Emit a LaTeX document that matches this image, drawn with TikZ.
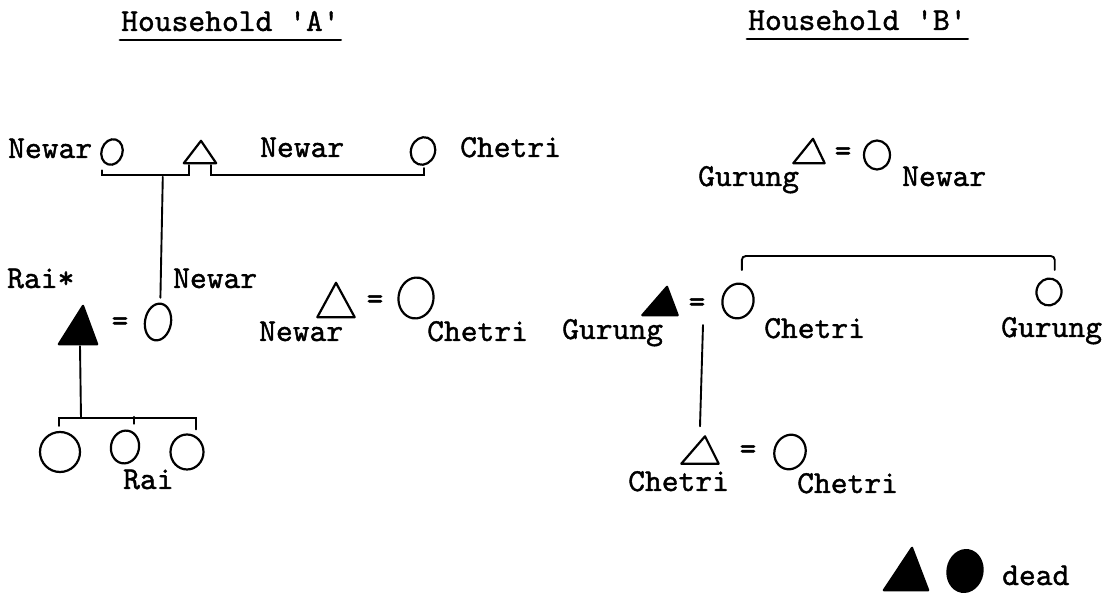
\documentclass[tikz,border=0pt]{standalone}
\usepackage{fontspec}
\usetikzlibrary{shapes.geometric,calc}

% typewriter lettering used for every label (slightly emboldened)
\newfontfamily\kinface{lmmono10-regular}[Extension=.otf, FakeBold=1.2]
\newcommand\kinfont{\kinface\fontsize{32}{36}\selectfont}

\tikzset{
  kin/.style={line width=2.2pt, line join=round, line cap=round},
  link/.style={line width=1.9pt, line cap=round, line join=miter},
  fem/.style={draw, ellipse, line width=2.2pt, inner sep=0pt},
  femdead/.style={fem, fill=black},
  tribox/.style={rectangle, inner sep=0pt},
  tri/.style={kin, draw},
  tridead/.style={kin, draw, fill=black},
  lbl/.style={font=\kinfont, inner sep=0pt, anchor=base west},
  eqs/.style={font=\kinfont, inner sep=0pt},
  uline/.style={line width=2.8pt, line cap=round},
}

\begin{document}
\begin{tikzpicture}[x=1pt, y=-1pt]
\useasboundingbox (0,0) rectangle (1112,593);
\fill[white] (0,0) rectangle (1112,593);

% ---------------- headings ----------------
\node[lbl] (titleA) at (121,31) {Household 'A'};
\node[lbl] (titleB) at (748,30) {Household 'B'};
\draw[uline] ($(titleA.base west)+(-1,9)$) -- ($(titleA.base east)+(1,9)$);
\draw[uline] ($(titleB.base west)+(-1,9)$) -- ($(titleB.base east)+(1,9)$);

% ---------------- household A ----------------
% senior generation
\node[lbl] (nA1) at (8,158) {Newar};
\node[fem, minimum width=21, minimum height=26, rotate=-18] (c1) at (112,152) {};
\node[tribox, minimum width=32, minimum height=22] (t1) at (200,152) {};
\draw[tri] (t1.south west) -- ($(t1.north)+(1,0)$) -- (t1.south east) -- cycle;
\node[lbl] (nA2) at (260,157) {Newar};
\node[fem, minimum width=24, minimum height=28, rotate=-20] (c2) at (423,151) {};
\node[lbl] (nA3) at (460,157) {Chetri};

% sibling / marriage brackets
\coordinate (b1l) at ($(c1.south)+(-6,5)$);
\coordinate (b1r) at ($(t1.south)+(-11,2)$);
\draw[link] (b1l) |- ($(b1r)+(0,10)$) -- (b1r);
\coordinate (b1m) at ($(b1l)!0.7!(b1r)+(0,10)$);
\coordinate (b2l) at ($(t1.south)+(11,2)$);
\coordinate (b2r) at ($(c2.south)+(6,3)$);
\draw[link] (b2l) -- ($(b2l)+(0,10)$) -| (b2r);

% second generation
\node[lbl] (nRs) at (7,288) {Rai*};
\node[lbl] (nA4) at (173,288) {Newar};
\node[tribox, minimum width=38, minimum height=38] (ft1) at (78,325) {};
\draw[tridead] (ft1.south west) -- ($(ft1.north)+(5,0)$) -- (ft1.south east) -- cycle;
\node[eqs] (eq1) at (120,324) {=};
\node[fem, minimum width=26, minimum height=37, rotate=-10] (c3) at (158,322) {};
\draw[link] (b1m) -- ($(c3.north)+(-1,-5)$);

\node[tribox, minimum width=37, minimum height=34] (t2) at (336,300) {};
\draw[tri] (t2.south west) -- (t2.north) -- (t2.south east) -- cycle;
\node[eqs] (eq2) at (375,302) {=};
\node[fem, minimum width=35, minimum height=41, rotate=-8] (c4) at (416,298) {};
\node[lbl] (nA5) at (259,341) {Newar};
\node[lbl] (nA6) at (427,341) {Chetri};

% children
\coordinate (b3m) at ($(ft1.south)+(3,74)$);
\draw[link] ($(ft1.south)+(2,2)$) -- (b3m);
\node[fem, minimum width=40, minimum height=40] (c5) at (60,452) {};
\node[fem, minimum width=28, minimum height=33, rotate=-12] (c6) at (125,447) {};
\node[fem, minimum width=33, minimum height=35] (c7) at (187,452) {};
\draw[link] ($(c5.north)+(-1,-5)$) |- (b3m) -| ($(c7.north)+(9,-4)$);
\draw[link] ($(c6.north)+(5,-6)$) -- ($(c6.north)+(5,-13)$);
\node[lbl] (nRai) at (123,489) {Rai};

% ---------------- household B ----------------
\node[tribox, minimum width=31, minimum height=24] (t3) at (809,151) {};
\draw[tri] (t3.south west) -- ($(t3.north)+(4,0)$) -- (t3.south east) -- cycle;
\node[eqs] (eq3) at (843,154) {=};
\node[fem, minimum width=26, minimum height=29] (c8) at (877,155) {};
\node[lbl] (nB1) at (698,186) {Gurung};
\node[lbl] (nB2) at (902,186) {Newar};

% middle generation
\node[tribox, minimum width=35, minimum height=28] (ft2) at (660,301) {};
\draw[tridead] (ft2.south west) -- ($(ft2.north)+(7,0)$) -- (ft2.south east) -- cycle;
\node[eqs] (eq4) at (697,305) {=};
\node[fem, minimum width=31, minimum height=35, rotate=-15] (c9) at (738,301) {};
\node[fem, minimum width=25, minimum height=27, rotate=-15] (c10) at (1049,292) {};
\node[lbl] (nB3) at (562,339) {Gurung};
\node[lbl] (nB4) at (764,338) {Chetri};
\node[lbl] (nB5) at (1001,337) {Gurung};
\coordinate (b4l) at ($(c9.north)+(-1,-13)$);
\coordinate (b4r) at ($(c10.north)+(2,-8)$);
\draw[link, rounded corners=4pt] (b4l) |- (900,256) -| (b4r);

% youngest generation
\node[tribox, minimum width=37, minimum height=27] (t4) at (700,450) {};
\draw[tri] (t4.south west) -- ($(t4.north)+(5,0)$) -- (t4.south east) -- cycle;
\node[eqs] (eq5) at (748,452) {=};
\node[fem, minimum width=31, minimum height=35, rotate=-20] (c11) at (790,452) {};
\node[lbl] (nB6) at (628,491) {Chetri};
\node[lbl] (nB7) at (797,493) {Chetri};
\draw[link] ($(eq4)+(6,20)$) -- ($(t4.north)+(0,-10)$);

% ---------------- key ----------------
\node[tribox, minimum width=44, minimum height=42] (ft3) at (906,569) {};
\draw[tridead] (ft3.south west) -- ($(ft3.north)+(6,0)$) -- (ft3.south east) -- cycle;
\node[femdead, minimum width=35, minimum height=42, rotate=-10] (fc) at (965,571) {};
\node[lbl] (nDead) at (1002,585) {dead};
\end{tikzpicture}
\end{document}
